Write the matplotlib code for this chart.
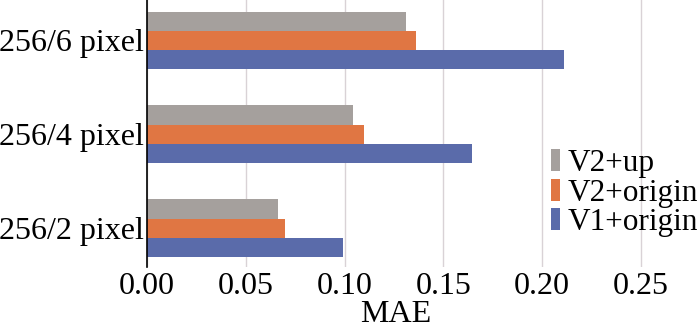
import numpy as np
import matplotlib.pyplot as plt

plt.rcParams['font.family'] = ['Liberation Serif', 'DejaVu Serif']

categories = ['256/2 pixel', '256/4 pixel', '256/6 pixel']
series_names = ['V1+origin', 'V2+origin', 'V2+up']
v1_origin = [0.0993, 0.1646, 0.2111]
v2_origin = [0.0700, 0.1100, 0.1364]
v2_up = [0.0665, 0.1042, 0.1310]
colors = ['#5A6BAA', '#E07643', '#A5A09D']
xticks = [0.00, 0.05, 0.10, 0.15, 0.20, 0.25]

fig = plt.figure(figsize=(7, 3.25), dpi=100)
ax = fig.add_axes([0.21, 0.179, 0.79, 0.821])

y = np.arange(len(categories))
h = 0.205
for k, (vals, name, c) in enumerate(zip([v1_origin, v2_origin, v2_up], series_names, colors)):
    ax.barh(y + (k - 1) * h, vals, height=h, color=c, label=name, zorder=2)

ax.set_xlim(0, 0.28)
ax.set_ylim(-0.41, 2.43)
ax.set_xticks(xticks)
ax.set_xticklabels([f'{t:.2f}' for t in xticks])
ax.set_yticks(y)
ax.set_yticklabels(categories)
ax.tick_params(axis='both', length=0, labelsize=23)
ax.tick_params(axis='y', pad=2)
ax.tick_params(axis='x', pad=4)
ax.grid(axis='x', color='#D9D2D6', linewidth=1, zorder=0)
for s in ['top', 'right', 'bottom']:
    ax.spines[s].set_visible(False)
ax.spines['left'].set_color('black')
ax.spines['left'].set_linewidth(1.2)
ax.spines['left'].set_zorder(3)
ax.set_xlabel('MAE', fontsize=23, va='top')
ax.xaxis.set_label_coords(0.45, -0.125)

handles, labels = ax.get_legend_handles_labels()
ax.legend(handles[::-1], labels[::-1], loc='center left', bbox_to_anchor=(0.73, 0.276),
          frameon=False, fontsize=22.5, handlelength=0.3, handleheight=0.7,
          handletextpad=0.25, labelspacing=0.02, borderpad=0, borderaxespad=0)

fig.savefig('out.png')
